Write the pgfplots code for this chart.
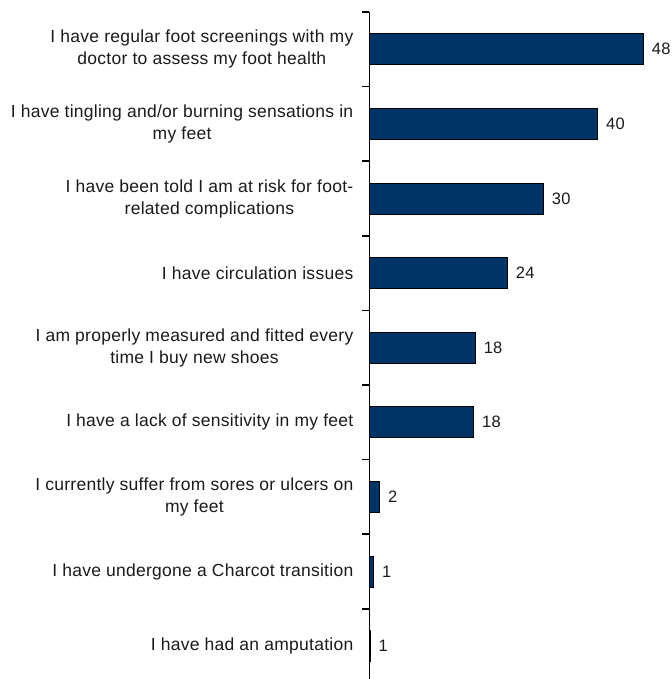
\documentclass[border=0pt]{standalone}
\usepackage{pgfplots}
\pgfplotsset{compat=1.18}
\usepackage{pgfplotstable}
\usepackage{fontspec}
\setmainfont{Liberation Sans}[LetterSpace=1.5]
\definecolor{barblue}{HTML}{003366}
\definecolor{txt}{HTML}{1A1A1A}
\pgfplotstableread{
y x lab
0 47.9 48
1 39.9 40
2 30.4 30
3 24.1 24
4 18.5 18
5 18.2 18
6 1.75 2
7 0.7 1
8 0.12 1
}\datatable
\begin{document}
\begin{tikzpicture}
\begin{axis}[
  x=5.72pt, y=74.6pt, y dir=reverse,
  xmin=0, xmax=52, ymin=-0.5, ymax=8.5,
  enlargelimits=false, clip=false,
  axis x line=none, axis y line*=left,
  y axis line style={-, line width=1.5pt, black},
  xbar, bar width=31pt,
  ytick={0,...,8},
  yticklabels={
    {I have regular foot screenings with my\\doctor to assess my foot health},
    {I have tingling and/or burning sensations in\\my feet},
    {I have been told I am at risk for foot-\\related complications},
    {I have circulation issues},
    {I am properly measured and fitted every\\time I buy new shoes},
    {I have a lack of sensitivity in my feet},
    {I currently suffer from sores or ulcers on\\my feet},
    {I have undergone a Charcot transition},
    {I have had an amputation}},
  minor ytick={-0.5,0.5,...,8.5},
  major tick length=0pt, minor tick length=7pt, tick align=outside,
  minor tick style={line width=1.5pt, black},
  yticklabel style={align=center, inner sep=0pt, xshift=-16pt, text=txt,
    font=\fontsize{17.5}{22}\selectfont},
  nodes near coords, point meta=explicit symbolic,
  nodes near coords style={anchor=west, inner sep=0pt, xshift=8pt, text=txt,
    font=\fontsize{16.5}{19}\selectfont},
]
\addplot[fill=barblue, draw=black, line width=1pt] table[x=x, y=y, meta=lab] {\datatable};
\coordinate (A) at (axis cs:0,-0.5);
\end{axis}
\pgfresetboundingbox
\path ([shift={(-369.5pt,12pt)}]A) rectangle ([shift={(301.5pt,-667pt)}]A);
\end{tikzpicture}
\end{document}
